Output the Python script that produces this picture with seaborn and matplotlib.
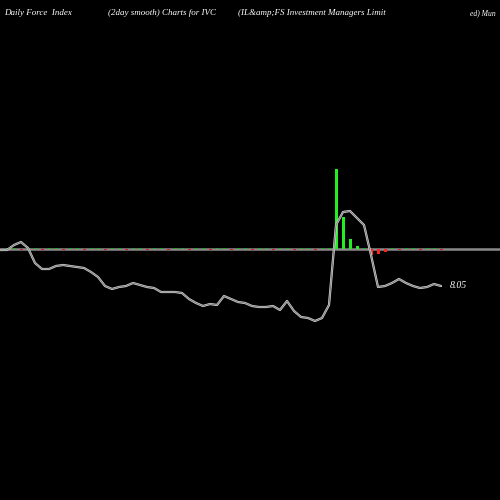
import matplotlib
matplotlib.use("Agg")
import matplotlib.pyplot as plt
import seaborn as sns
import numpy as np

# line pixel-y readings (baseline at 249), x step 7
line_y = [250,250,245,242,248,263,269,269,266,265,266,267,268,272,277,286,289,287,286,283,
          285,287,288,292,292,292,293,299,303,306,304,305,296,299,302,303,306,307,307,306,
          310,301,311,317,318,321,318,305,225,212,211,218,225,255,287,286,283,279,283,286,
          288,287,284,286]
line_vals = [249 - v for v in line_y]
bar_x_idx = [48, 49, 50, 51, 53, 54, 55]
bar_vals = [80, 32, 10, 3, -6, -5, -3]
small_idx = list(range(0, 64))
small_vals = [1.0 if i % 3 else -1.0 for i in small_idx]
label_text = "8.05"

sns.set_style("dark")
fig = plt.figure(figsize=(5, 5), dpi=100, facecolor="black")
ax = fig.add_axes([0, 0, 1, 1])
ax.set_facecolor("black")
ax.set_xlim(0, 500)
ax.set_ylim(249 - 500, 249)
ax.axis("off")

xs = [7 * i for i in range(len(line_vals))]
ax.axhline(0, color="#8a8a8a", lw=1.8, zorder=1)
for i, v in zip(small_idx, small_vals):
    if i in bar_x_idx:
        continue
    ax.bar(7 * i, v, width=3, color="#22aa22" if v > 0 else "#cc2222", zorder=2,
           edgecolor="none", linewidth=0)
for i, v in zip(bar_x_idx, bar_vals):
    ax.bar(7 * i, v, width=3, color="#22ee22" if v > 0 else "#ff2222", zorder=2,
           edgecolor="none", linewidth=0)
sns.lineplot(x=xs, y=line_vals, ax=ax, color="#dddddd", lw=1.6, zorder=3)
sns.lineplot(x=xs, y=line_vals, ax=ax, color="#808080", lw=0.8, zorder=4)
ax.text(450, line_vals[-1] + 1, label_text, color="white", fontsize=7,
        family="Liberation Serif", style="italic", va="center")

kw = dict(color="white", fontsize=6.5, family="Liberation Serif", style="italic",
          transform=fig.transFigure, va="top")
fig.text(4 / 500, 1 - 9 / 500, "Daily Force  Index", **kw)
fig.text(108 / 500, 1 - 9 / 500, "(2day smooth) Charts for IVC", **kw)
fig.text(238 / 500, 1 - 9 / 500, "(IL&amp;FS Investment Managers Limit", **kw)
fig.text(470 / 500, 1 - 9 / 500, "ed) Mun", fontsize=5.5,
         **{k: v for k, v in kw.items() if k != "fontsize"})
fig.savefig("out.png", dpi=100, facecolor="black")
